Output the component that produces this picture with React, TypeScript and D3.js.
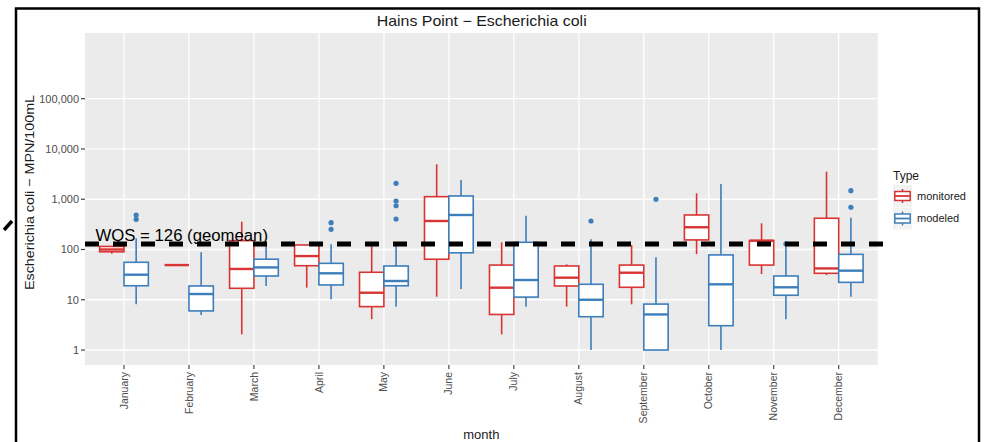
import React from "react";
import * as d3 from "d3";

const months = ["January","February","March","April","May","June","July","August","September","October","November","December"];

// monitored series (box stats)
const monLow  = [82, 49, 2.05, 17.4, 4.1, 11.5, 2.05, 7.3, 8.1, 81, 32.5, 31];
const monQ1   = [90, 49, 16.9, 47.6, 7.3, 64, 5.1, 18.8, 17.7, 155, 49, 33.6];
const monMed  = [100, 49, 41, 74, 13.8, 369, 17.4, 27.5, 34.5, 277, 150, 42];
const monQ3   = [115, 49, 150, 123, 35.2, 1124, 49, 47, 49, 486, 150, 418];
const monHigh = [115, 49, 357, 125, 120, 4960, 139, 50.6, 123, 1313, 332, 3532];
const monOut: number[][] = [[], [], [], [], [], [], [], [], [], [], [], []];

// modeled series (box stats)
const modLow  = [8.1, 5.0, 18.8, 10.2, 7.3, 16.4, 7.3, 1, 1, 1, 4.1, 11.5];
const modQ1   = [19, 6.0, 29.7, 19.7, 19, 86, 11.3, 4.6, 1, 3.05, 12.3, 22.2];
const modMed  = [31.5, 13, 44, 33.6, 23.6, 486, 24.7, 10, 5.1, 20.3, 17.7, 37.9];
const modQ3   = [55.6, 18.8, 64, 53, 47, 1161, 139, 20.3, 8.2, 78, 29.7, 80];
const modHigh = [167, 88, 119, 127, 120, 2415, 471, 160, 70, 2010, 122, 430];
const modOut: number[][] = [[486, 398], [], [], [341, 252], [2075, 923, 741, 404], [], [], [369], [998], [], [130], [1479, 692]];

const yTicks = [1, 10, 100, 1000, 10000, 100000];
const yTickLabels = ["1", "10", "100", "1,000", "10,000", "100,000"];
const types = ["monitored", "modeled"];
const typeColors = ["#D93434", "#3D7EBB"];
const wqsValue = 128;
const wqsLabel = "WQS = 126 (geomean)";

export default function App() {
  const W = 994, H = 442;
  const pL = 85, pR = 877.7, pT = 33, pB = 365;
  const x = d3.scalePoint<string>().domain(months).range([pL, pR]).padding(0.6);
  const y = d3.scaleLog().domain([Math.pow(10, -0.298), Math.pow(10, 6.307)]).range([pB, pT]);
  const step = x.step();
  const boxW = step * 0.75 / 2;
  const off = step * 0.1875;
  const font = "'Liberation Sans', Arial, sans-serif";

  const series = [
    { lo: monLow, q1: monQ1, med: monMed, q3: monQ3, hi: monHigh, out: monOut },
    { lo: modLow, q1: modQ1, med: modMed, q3: modQ3, hi: modHigh, out: modOut },
  ];

  return (
    <svg width={W} height={H} style={{ position: "absolute", left: 0, top: 0, background: "#fff" }} fontFamily={font}>
      <rect x={0} y={0} width={W} height={H} fill="#fff" />
      {/* panel */}
      <rect x={pL} y={pT} width={pR - pL} height={pB - pT} fill="#EBEBEB" />
      {yTicks.map((t) => (
        <line key={"gy" + t} x1={pL} x2={pR} y1={y(t)} y2={y(t)} stroke="#fff" strokeWidth={1.3} />
      ))}
      {months.map((m) => (
        <line key={"gx" + m} x1={x(m)!} x2={x(m)!} y1={pT} y2={pB} stroke="#fff" strokeWidth={1.3} />
      ))}
      {/* boxes */}
      {series.map((s, si) =>
        months.map((m, i) => {
          const cx = x(m)! + (si === 0 ? -off : off);
          const c = typeColors[si];
          return (
            <g key={si + m}>
              <line x1={cx} x2={cx} y1={y(s.hi[i])} y2={y(s.q3[i])} stroke={c} strokeWidth={1.6} />
              <line x1={cx} x2={cx} y1={y(s.q1[i])} y2={y(s.lo[i])} stroke={c} strokeWidth={1.6} />
              <rect x={cx - boxW / 2} y={y(s.q3[i])} width={boxW} height={Math.max(0, y(s.q1[i]) - y(s.q3[i]))} fill="#fff" stroke={c} strokeWidth={1.6} />
              <line x1={cx - boxW / 2} x2={cx + boxW / 2} y1={y(s.med[i])} y2={y(s.med[i])} stroke={c} strokeWidth={2.4} />
              {s.out[i].map((o, k) => (
                <circle key={k} cx={cx} cy={y(o)} r={2.6} fill={c} />
              ))}
            </g>
          );
        })
      )}
      {/* y axis */}
      {yTicks.map((t, i) => (
        <g key={"yt" + t}>
          <line x1={pL - 4} x2={pL} y1={y(t)} y2={y(t)} stroke="#333" strokeWidth={1.1} />
          <text x={pL - 6} y={y(t)} dy="0.35em" textAnchor="end" fontSize={11} fill="#4D4D4D">{yTickLabels[i]}</text>
        </g>
      ))}
      {/* x axis */}
      {months.map((m) => (
        <g key={"xt" + m}>
          <line x1={x(m)!} x2={x(m)!} y1={pB} y2={pB + 4} stroke="#333" strokeWidth={1.1} />
          <text transform={`translate(${x(m)! + 3.6},${pB + 7}) rotate(-90)`} textAnchor="end" fontSize={10.5} fill="#4D4D4D">{m}</text>
        </g>
      ))}
      <text x={(pL + pR) / 2} y={439} textAnchor="middle" fontSize={13} fill="#1a1a1a">month</text>
      <text transform={`translate(34,192.5) rotate(-90)`} textAnchor="middle" fontSize={13} textLength={195} lengthAdjust="spacingAndGlyphs" fill="#1a1a1a">Escherichia coli − MPN/100mL</text>
      <text x={481.7} y={25.5} textAnchor="middle" fontSize={14.5} textLength={210} lengthAdjust="spacingAndGlyphs" fill="#1a1a1a">Hains Point − Escherichia coli</text>
      {/* legend */}
      <text x={893} y={180} fontSize={12} fill="#1a1a1a">Type</text>
      {types.map((t, i) => {
        const cy = 196 + i * 22.5;
        const kx = 893, kw = 19;
        const c = typeColors[i];
        const cx = kx + kw / 2;
        return (
          <g key={t}>
            <rect x={kx} y={cy - 11} width={kw} height={22} fill="#F2F2F2" />
            <line x1={cx} x2={cx} y1={cy - 7} y2={cy + 7} stroke={c} strokeWidth={1.5} />
            <rect x={kx + 1.8} y={cy - 4.5} width={kw - 3.6} height={9} fill="#fff" stroke={c} strokeWidth={1.5} />
            <line x1={kx + 1.8} x2={kx + kw - 1.8} y1={cy} y2={cy} stroke={c} strokeWidth={1.8} />
            <text x={917} y={cy} dy="0.35em" fontSize={11} fill="#1a1a1a">{t}</text>
          </g>
        );
      })}
      {/* WQS annotation */}
      <line x1={85} x2={885} y1={y(wqsValue)} y2={y(wqsValue)} stroke="#000" strokeWidth={5} strokeDasharray="14 14" />
      <text x={95.5} y={240.7} fontSize={16} textLength={172.5} lengthAdjust="spacingAndGlyphs" fill="#000">{wqsLabel}</text>
      {/* slide frame */}
      <rect x={16} y={8.5} width={963} height={460} fill="none" stroke="#000" strokeWidth={2.5} />
      <line x1={4} y1={230} x2={12} y2={221} stroke="#000" strokeWidth={3.5} />
    </svg>
  );
}
